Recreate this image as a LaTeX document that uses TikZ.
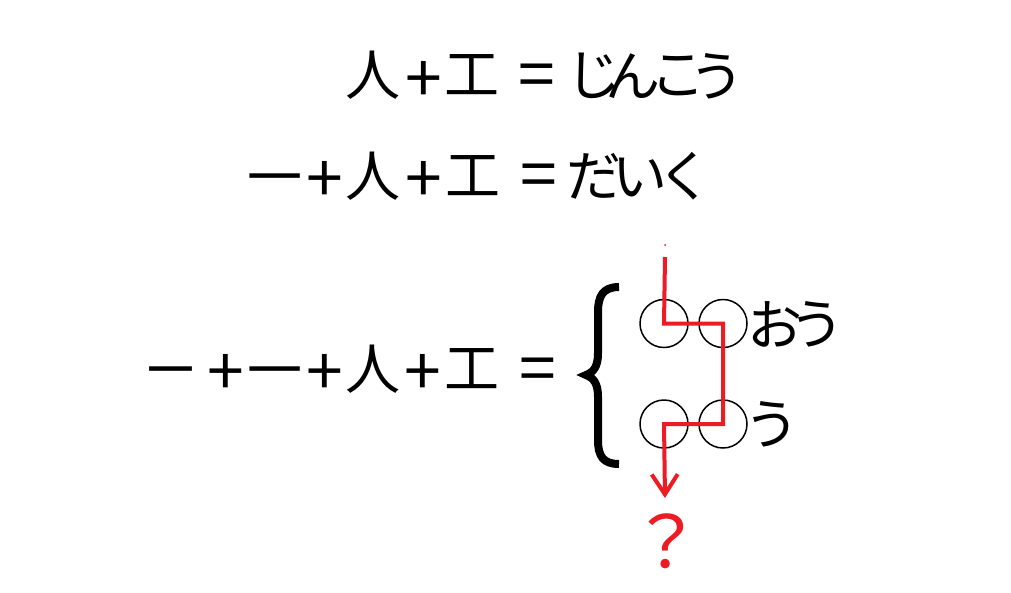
\documentclass[tikz,border=0pt]{standalone}
\usepackage{fontspec}
\newfontfamily\jp{Noto Sans CJK JP}
\usetikzlibrary{arrows.meta}
\definecolor{redline}{HTML}{ED1C24}
\tikzset{
  ch/.style={inner sep=0pt, outer sep=0pt, font=\jp\fontsize{55}{55}\selectfont},
  sym/.style={inner sep=0pt, outer sep=0pt, font=\jp\fontsize{66}{66}\selectfont},
  blank/.style={circle, draw=black, line width=1.5pt, minimum size=48pt, inner sep=0pt},
  route/.style={draw=redline, line width=4pt, line join=miter},
}
\begin{document}
\begin{tikzpicture}[x=1pt,y=-1pt]
\useasboundingbox[fill=white] (0,0) rectangle (1011,592);
% row 1
\node[ch]  (a1) at (373,75.5) {人};
\node[sym] (a2) at (423.5,82) {+};
\node[ch]  (a3) at (472,74.5) {工};
\node[sym] (a4) at (537,81) {=};
\node[ch]  (a5) at (593.5,75.5) {じ};
\node[ch]  (a6) at (633,76) {ん};
\node[ch]  (a7) at (678,76) {こ};
\node[ch]  (a8) at (716.5,76) {う};
% row 2
\node[ch]  (b1) at (275,186) {一};
\node[sym] (b2) at (325,181.5) {+};
\node[ch]  (b3) at (373,176) {人};
\node[sym] (b4) at (423.5,181.5) {+};
\node[ch]  (b5) at (473,176) {工};
\node[sym] (b6) at (538.5,181.5) {=};
\node[ch]  (b7) at (594,176.5) {だ};
\node[ch]  (b8) at (640,177) {い};
\node[ch]  (b9) at (685,176.5) {く};
% row 3
\node[ch, xscale=0.85] (c1) at (171,379) {一};
\node[sym] (c2) at (226,374.5) {+};
\node[ch]  (c3) at (275,379) {一};
\node[sym] (c4) at (325,374.5) {+};
\node[ch]  (c5) at (373,369) {人};
\node[sym] (c6) at (422.5,374.5) {+};
\node[ch]  (c7) at (472,369) {工};
\node[sym] (c8) at (537.5,375) {=};
% brace
\draw[line width=8pt, line join=miter, miter limit=3]
  (619,287) .. controls (603,287) and (598,296) .. (598,312) -- (598,353)
  .. controls (598,366) and (594,372) .. (586,375)
  .. controls (594,378) and (598,384) .. (598,397) -- (598,440)
  .. controls (598,456) and (603,464) .. (619,464);
% blanks
\node[blank] (o1) at (664,323.5) {};
\node[blank] (o2) at (723,323.5) {};
\node[blank] (o3) at (664,424) {};
\node[blank] (o4) at (723,424) {};
\node[ch] (d1) at (775,324) {お};
\node[ch] (d2) at (816.5,324) {う};
\node[ch] (d3) at (772,424) {う};
% red route
\coordinate (s) at (665,257);
\coordinate (t) at (665,498);
\fill[redline] (665,245) circle (1pt);
\draw[route, -{Straight Barb[length=20pt,width=26pt,line width=4pt]}]
  (s) -- (o1.center) -- (o2.center) -- (o4.center) -- (o3.center) -- (t);
\node[text=redline, inner sep=0pt, font=\jp\fontsize{72}{72}\selectfont] (q) at (666,541) {？};
\end{tikzpicture}
\end{document}
